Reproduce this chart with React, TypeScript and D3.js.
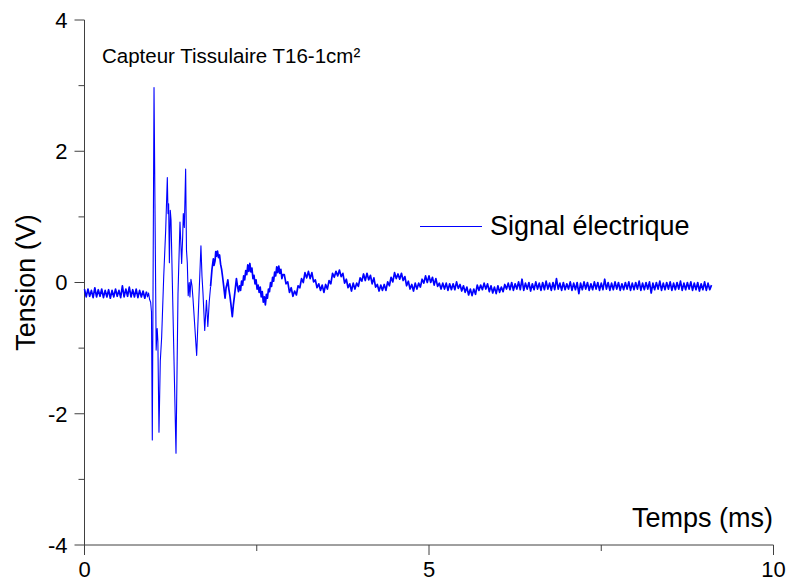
import React from "react";
import * as d3 from "d3";

// ---- data ----
const xTicksMajor = [0, 5, 10];
const xTicksMinor = [2.5, 7.5];
const yTicksMajor = [-4, -2, 0, 2, 4];
const yTicksMinor = [-3, -1, 1, 3];

const sampleStep = 0.025; // ms

// 0 .. 0.875 ms (baseline before the impact)
const preStart = 0;
const preValues = [
  -0.10, -0.22, -0.10, -0.21, -0.12, -0.23, -0.08, -0.22, -0.11, -0.21,
  -0.10, -0.23, -0.12, -0.22, -0.11, -0.24, -0.12, -0.22, -0.10, -0.21,
  -0.12, -0.23, -0.05, -0.22, -0.10, -0.21, -0.07, -0.22, -0.11, -0.22,
  -0.10, -0.23, -0.12, -0.22, -0.13, -0.24,
];

// 0.9 .. 1.83 ms (main burst)
const burstTimes = [
  0.900, 0.915, 0.930, 0.945, 0.960, 0.972, 0.984, 1.009, 1.040, 1.055,
  1.065, 1.081, 1.100, 1.120, 1.150, 1.178, 1.202, 1.212, 1.221, 1.232,
  1.245, 1.256, 1.275, 1.328, 1.357, 1.386, 1.410, 1.425, 1.434, 1.449,
  1.468, 1.480, 1.492, 1.505, 1.520, 1.530, 1.545, 1.560, 1.575, 1.628,
  1.690, 1.705, 1.720, 1.745, 1.770, 1.790, 1.810, 1.830,
];
const burstValues = [
  -0.14, -0.22, -0.16, -0.26, -0.30, -0.45, -2.40, 2.97, -1.03, -0.70,
  -0.90, -2.28, -1.20, -0.83, 0.10, 0.79, 1.60, 1.05, 1.20, 0.30,
  1.10, 0.95, 0.00, -2.60, -0.17, 0.92, 0.29, 0.70, 1.05, 0.84,
  1.73, 0.50, 0.30, -0.20, 0.00, -0.22, 0.05, -0.05, -0.25, -1.11,
  0.56, 0.10, -0.17, -0.73, -0.27, -0.67, -0.30, -0.06,
];

// 1.83 .. 2.88 ms (ringing)
const ringTimes = [
  1.830, 1.850, 1.870,
  1.880, 1.895, 1.905, 1.915, 1.930, 1.945, 1.960, 1.975, 1.990, 2.005,
  2.020, 2.040, 2.055, 2.070, 2.080, 2.095, 2.110, 2.125, 2.145, 2.160,
  2.175, 2.190, 2.205, 2.220, 2.235, 2.250, 2.265, 2.280, 2.295, 2.310,
  2.325, 2.340, 2.355, 2.370, 2.385, 2.400, 2.415, 2.430, 2.445, 2.460,
  2.475, 2.490, 2.505, 2.520, 2.535, 2.550, 2.565, 2.580, 2.595, 2.610,
  2.625, 2.640, 2.655, 2.670, 2.685, 2.700, 2.715, 2.730, 2.745, 2.760,
  2.775, 2.790, 2.805, 2.820, 2.835, 2.850, 2.865, 2.880,
];
const ringValues = [
  -0.06, 0.20, 0.36,
  0.26, 0.33, 0.47, 0.40, 0.48, 0.38, 0.42, 0.28, 0.20, 0.08,
  -0.05, -0.24, -0.08, -0.02, 0.04, -0.10, -0.20, -0.33, -0.52, -0.35,
  -0.22, -0.08, 0.06, -0.05, -0.14, -0.05, -0.12, 0.02, -0.04, 0.10,
  0.04, 0.18, 0.12, 0.27, 0.17, 0.29, 0.16, 0.22, 0.06, 0.11,
  -0.02, 0.04, -0.10, -0.04, -0.15, -0.07, -0.22, -0.14, -0.30, -0.22,
  -0.34, -0.18, -0.24, -0.10, -0.14, 0.00, -0.06, 0.08, 0.02, 0.16,
  0.10, 0.24, 0.15, 0.25, 0.14, 0.20, 0.06, 0.12,
];

// 2.9 .. 9.1 ms (damped tail)
const tailStart = 2.9;
const tailValues = [
  0.12, -0.02, 0.01, -0.15, -0.08, -0.21, -0.13, -0.19, -0.05, -0.08,
  0.06, 0.00, 0.15, 0.07, 0.17, 0.06, 0.15, 0.01, 0.04, -0.08,
  -0.02, -0.12, -0.04, -0.15, -0.03, -0.10, 0.03, -0.02, 0.14, 0.08,
  0.17, 0.10, 0.19, 0.09, 0.14, -0.01, 0.05, -0.08, -0.02, -0.13,
  -0.01, -0.10, -0.01, -0.06, 0.07, 0.02, 0.13, 0.03, 0.14, 0.04,
  0.11, -0.02, 0.07, -0.07, -0.03, -0.13, -0.04, -0.12, -0.03, -0.12,
  0.01, -0.05, 0.08, 0.01, 0.15, 0.06, 0.13, 0.05, 0.14, 0.03,
  0.09, -0.05, 0.02, -0.10, -0.03, -0.13, -0.01, -0.10, -0.01, -0.07,
  0.05, -0.01, 0.10, 0.00, 0.10, 0.00, 0.08, -0.04, 0.06, -0.06,
  -0.01, -0.10, -0.01, -0.10, -0.01, -0.12, -0.02, -0.11, -0.02, -0.11,
  0.01, -0.09, -0.03, -0.13, -0.05, -0.15, -0.07, -0.19, -0.10, -0.20,
  -0.10, -0.18, -0.04, -0.12, -0.04, -0.11, -0.01, -0.10, -0.02, -0.14,
  -0.05, -0.16, -0.07, -0.17, -0.05, -0.15, -0.07, -0.14, -0.03, -0.10,
  -0.01, -0.11, 0.00, -0.12, -0.02, -0.10, 0.01, -0.11, 0.05, -0.12,
  -0.01, -0.10, 0.00, -0.13, -0.02, -0.11, 0.01, -0.10, -0.01, -0.12,
  0.00, -0.11, 0.02, -0.10, -0.01, -0.12, 0.00, -0.11, 0.06, -0.10,
  -0.01, -0.12, 0.00, -0.11, -0.02, -0.10, 0.01, -0.12, -0.01, -0.11,
  0.00, -0.17, -0.01, -0.11, 0.01, -0.10, 0.00, -0.12, -0.02, -0.11,
  0.01, -0.10, 0.00, -0.12, -0.01, -0.11, 0.05, -0.10, 0.00, -0.12,
  -0.01, -0.11, 0.01, -0.10, 0.00, -0.12, -0.02, -0.11, 0.00, -0.10,
  0.01, -0.12, -0.01, -0.11, 0.00, -0.10, 0.02, -0.12, -0.01, -0.11,
  0.00, -0.10, 0.01, -0.16, -0.01, -0.11, 0.00, -0.10, 0.02, -0.12,
  -0.01, -0.11, 0.00, -0.10, 0.01, -0.12, -0.01, -0.11, 0.00, -0.10,
  0.02, -0.12, -0.01, -0.11, 0.00, -0.10, 0.01, -0.12, -0.01, -0.11,
  0.00, -0.13, -0.02, -0.11, 0.01, -0.12, -0.01, -0.11, -0.04,
];

const seriesName = "Signal électrique";
const subtitle = "Capteur Tissulaire T16-1cm²";
const xTitle = "Temps (ms)";
const yTitle = "Tension (V)";

// ---- chart ----
const W = 786;
const H = 582;
const FONT = "'Liberation Sans', Arial, sans-serif";
const AXIS = "#404040";
const BLUE = "#0000ff";

type Pt = [number, number];

export default function App() {
  const x = d3.scaleLinear().domain([0, 10]).range([84.5, 773.5]);
  const y = d3.scaleLinear().domain([-4, 4]).range([545, 20]);

  const prePts: Pt[] = preValues.map((v, i) => [preStart + i * sampleStep, v]);
  const burstPts: Pt[] = burstTimes.map((t, i) => [t, burstValues[i]]);
  const ringPts: Pt[] = ringTimes.map((t, i) => [t, ringValues[i]]);
  const tailPts: Pt[] = tailValues.map((v, i) => [tailStart + i * sampleStep, v]);

  // join segments so the trace is continuous
  const seg1 = [...prePts, burstPts[0]];
  const seg2 = burstPts;
  const seg3 = [...ringPts, ...tailPts];

  const line = d3
    .line<Pt>()
    .x((d) => x(d[0]))
    .y((d) => y(d[1]));

  const x0 = x(0);
  const yBottom = y(-4);

  return (
    <svg
      width={W}
      height={H}
      style={{ position: "absolute", left: 0, top: 0, background: "#fff" }}
      fontFamily={FONT}
    >
      <rect width={W} height={H} fill="#fff" />
      {/* axes */}
      <line x1={x0} x2={x0} y1={y(4)} y2={yBottom} stroke={AXIS} strokeWidth={1} />
      <line x1={x0} x2={x(10)} y1={yBottom} y2={yBottom} stroke={AXIS} strokeWidth={1} />
      {yTicksMajor.map((t) => (
        <g key={"ym" + t}>
          <line x1={x0 - 10} x2={x0} y1={y(t)} y2={y(t)} stroke={AXIS} />
          <text
            x={x0 - 17}
            y={y(t)}
            dy="0.36em"
            textAnchor="end"
            fontSize={22}
            fill="#000"
          >
            {t}
          </text>
        </g>
      ))}
      {yTicksMinor.map((t) => (
        <line key={"yn" + t} x1={x0 - 6} x2={x0} y1={y(t)} y2={y(t)} stroke={AXIS} />
      ))}
      {xTicksMajor.map((t) => (
        <g key={"xm" + t}>
          <line x1={x(t)} x2={x(t)} y1={yBottom} y2={yBottom + 10} stroke={AXIS} />
          <text x={x(t)} y={577} textAnchor="middle" fontSize={22} fill="#000">
            {t}
          </text>
        </g>
      ))}
      {xTicksMinor.map((t) => (
        <line key={"xn" + t} x1={x(t)} x2={x(t)} y1={yBottom} y2={yBottom + 6} stroke={AXIS} />
      ))}

      {/* titles */}
      <text x={773} y={527} textAnchor="end" fontSize={27} fill="#000">
        {xTitle}
      </text>
      <text
        transform={`translate(35, ${y(0)}) rotate(-90)`}
        textAnchor="middle"
        fontSize={27}
        fill="#000"
      >
        {yTitle}
      </text>
      <text x={102} y={63} fontSize={20.5} fill="#000">
        {subtitle}
      </text>

      {/* signal */}
      <path d={line(seg1) ?? ""} fill="none" stroke={BLUE} strokeWidth={1.7} strokeLinejoin="round" />
      <path d={line(seg2) ?? ""} fill="none" stroke={BLUE} strokeWidth={1.1} strokeLinejoin="round" />
      <path d={line(seg3) ?? ""} fill="none" stroke={BLUE} strokeWidth={1.7} strokeLinejoin="round" />

      {/* legend */}
      <line x1={420} x2={482} y1={226.5} y2={226.5} stroke={BLUE} strokeWidth={1} />
      <text x={490} y={235} fontSize={27} fill="#000">
        {seriesName}
      </text>
    </svg>
  );
}
